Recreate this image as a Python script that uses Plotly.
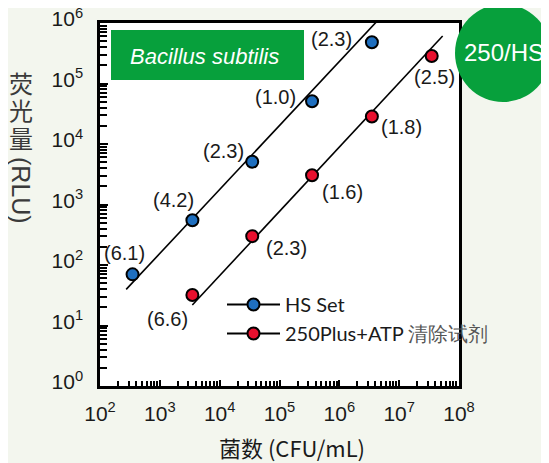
import numpy as np
import plotly.graph_objects as go

# ---- data ----
hs_x = [3.5e2, 3.5e3, 3.5e4, 3.5e5, 3.5e6]
hs_y = [70, 550, 5100, 51000, 480000]
hs_cv = ["(6.1)", "(4.2)", "(2.3)", "(1.0)", "(2.3)"]

plus_x = [3.5e3, 3.5e4, 3.5e5, 3.5e6, 3.5e7]
plus_y = [32, 300, 3050, 28500, 285000]
plus_cv = ["(6.6)", "(2.3)", "(1.6)", "(1.8)", "(2.5)"]

hs_fit_x = [2.74e2, 4.3e6]
hs_fit_y = [39.5, 1.08e6]
plus_fit_x = [3.49e3, 5.33e7]
plus_fit_y = [21.8, 6.1e5]

x_tick_exps = [2, 3, 4, 5, 6, 7, 8]
y_tick_exps = [0, 1, 2, 3, 4, 5, 6]

# ---- label offsets (px) ----
hs_off = [(-8, 21), (-19, 20), (-29, 11), (-37, 4), (-40, 3)]
plus_off = [(-25, -24), (34, -12), (30, -17), (30, -11), (3, -21)]

W, H = 549, 463
OFF = 8  # page body margin
SL, SR, ST, SB = 100, 459, 23, 386  # plot frame in screen pixels
pw, ph = SR - SL, SB - ST
L, T = SL - OFF, ST - OFF
R, B = W - (SR - OFF), H - (SB - OFF)


def px(x):
    return (x - SL) / pw


def py(y):
    return (SB - y) / ph


BLUE = "#1f6fbf"
RED = "#e8102e"
GREEN = "#07a03c"
TXT = "#1a1a1a"

fig = go.Figure()

fig.add_trace(go.Scatter(x=hs_fit_x, y=hs_fit_y, mode="lines",
                         line=dict(color="black", width=1.6), showlegend=False,
                         hoverinfo="skip"))
fig.add_trace(go.Scatter(x=plus_fit_x, y=plus_fit_y, mode="lines",
                         line=dict(color="black", width=1.6), showlegend=False,
                         hoverinfo="skip"))

fig.add_trace(go.Scatter(x=hs_x, y=hs_y, mode="markers", name="HS Set",
                         marker=dict(color=BLUE, size=12,
                                     line=dict(color="black", width=2)),
                         showlegend=False))
fig.add_trace(go.Scatter(x=plus_x, y=plus_y, mode="markers",
                         marker=dict(color=RED, size=12,
                                     line=dict(color="black", width=2)),
                         showlegend=False))

# legend entries (line + marker)
fig.add_trace(go.Scatter(x=[None], y=[None], mode="lines+markers", name="HS Set",
                         line=dict(color="black", width=2),
                         marker=dict(color=BLUE, size=12,
                                     line=dict(color="black", width=2))))
fig.add_trace(go.Scatter(x=[None], y=[None], mode="lines+markers",
                         name="250Plus+ATP <span style='color:#555555'>清除试剂</span>",
                         line=dict(color="black", width=2),
                         marker=dict(color=RED, size=12,
                                     line=dict(color="black", width=2))))

annotations = []
for xs, ys, labs, offs in [(hs_x, hs_y, hs_cv, hs_off), (plus_x, plus_y, plus_cv, plus_off)]:
    for xv, yv, lab, (dx, dy) in zip(xs, ys, labs, offs):
        annotations.append(dict(x=np.log10(xv), y=np.log10(yv), xref="x", yref="y",
                                text=lab, showarrow=False, xshift=dx, yshift=dy,
                                xanchor="center", yanchor="middle",
                                font=dict(family="Liberation Sans", size=20, color=TXT)))


def paper_text(x, y, text, size, color, family="Liberation Sans", angle=0):
    return dict(x=px(x), y=py(y), xref="paper", yref="paper", text=text,
                showarrow=False, xanchor="center", yanchor="middle",
                textangle=angle, font=dict(family=family, size=size, color=color))


annotations.append(paper_text(204, 56, "<i>Bacillus subtilis</i>", 22, "white"))
annotations.append(paper_text(504, 53, "250/HS", 24, "white"))
for ch, yy in zip(["荧", "光", "量"], [82, 110, 137]):
    annotations.append(paper_text(21, yy, ch, 24, "#3a3a3a", "Noto Sans CJK SC"))
annotations.append(paper_text(21, 190, "(RLU)", 25, "#3a3a3a", angle=90))
annotations.append(paper_text(292, 447, "菌数 (CFU/mL)", 22, TXT, "Noto Sans CJK SC"))

shapes = [
    dict(type="rect", xref="paper", yref="paper", x0=px(111), x1=px(304),
         y0=py(80), y1=py(30), fillcolor=GREEN, line=dict(width=0), layer="above"),
    dict(type="circle", xref="paper", yref="paper", x0=px(455), x1=px(551),
         y0=py(102), y1=py(4), fillcolor=GREEN, line=dict(width=0), layer="above"),
]

minor_x = [m * 10 ** e for e in range(2, 8) for m in range(2, 10)]
minor_y = [m * 10 ** e for e in range(0, 6) for m in range(2, 10)]

fig.update_layout(
    width=W, height=H,
    margin=dict(l=L, r=R, t=T, b=B, autoexpand=False),
    paper_bgcolor="#f3f6ee",
    plot_bgcolor="white",
    annotations=annotations,
    shapes=shapes,
    legend=dict(x=px(222), y=py(285), xanchor="left", yanchor="top",
                bgcolor="rgba(0,0,0,0)", itemwidth=53,
                font=dict(family="Lato", size=20, color=TXT), tracegroupgap=0),
    xaxis=dict(type="log", range=[2, 8], showgrid=False, zeroline=False,
               automargin=False, ticklabeloverflow="allow",
               showline=True, linecolor="black", linewidth=2.5, mirror=True,
               ticks="inside", ticklen=6, tickwidth=1.5, tickcolor="black",
               tickvals=[10 ** e for e in x_tick_exps],
               ticktext=[f"10<sup>{e}</sup>" for e in x_tick_exps],
               tickfont=dict(family="Liberation Sans", size=21, color=TXT),
               ticklabelstandoff=7,
               minor=dict(tickvals=minor_x, ticks="inside", ticklen=5,
                          tickwidth=1.5, tickcolor="black", showgrid=False)),
    yaxis=dict(type="log", range=[0, 6], showgrid=False, zeroline=False,
               automargin=False, ticklabeloverflow="allow",
               showline=True, linecolor="black", linewidth=2.5, mirror=True,
               ticks="inside", ticklen=8, tickwidth=1.5, tickcolor="black",
               tickvals=[10 ** e for e in y_tick_exps],
               ticktext=[f"10<sup>{e}</sup>" for e in y_tick_exps],
               tickfont=dict(family="Liberation Sans", size=21, color=TXT),
               ticklabelstandoff=10, ticklabelshift=-4,
               minor=dict(tickvals=minor_y, ticks="inside", ticklen=7,
                          tickwidth=1.5, tickcolor="black", showgrid=False)),
)

fig.write_html("out.html")
